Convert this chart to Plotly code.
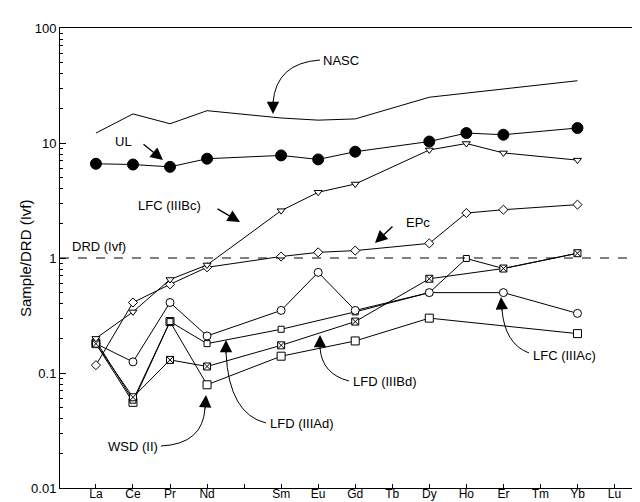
import plotly.graph_objects as go

# ---------------- data ----------------
elements = ["La", "Ce", "Pr", "Nd", "Pm", "Sm", "Eu", "Gd", "Tb", "Dy", "Ho", "Er", "Tm", "Yb", "Lu"]
tick_labels = ["La", "Ce", "Pr", "Nd", "", "Sm", "Eu", "Gd", "Tb", "Dy", "Ho", "Er", "Tm", "Yb", "Lu"]

N = None
nasc      = [12.2, 17.9, 14.7, 19.1, N, 16.5, 15.8, 16.2, N, 25.0, N, N, N, 34.8, N]
ul        = [6.6, 6.5, 6.2, 7.3, N, 7.8, 7.2, 8.4, N, 10.3, 12.2, 11.8, N, 13.5, N]
lfc_iiibc = [0.20, 0.34, 0.65, 0.87, N, 2.58, 3.73, 4.4, N, 8.7, 9.9, 8.2, N, 7.1, N]
epc       = [0.117, 0.41, 0.59, 0.83, N, 1.03, 1.12, 1.16, N, 1.34, 2.46, 2.63, N, 2.91, N]
lfc_iiiac = [0.18, 0.125, 0.41, 0.21, N, 0.35, 0.75, 0.35, N, 0.50, N, 0.50, N, 0.33, N]
lfd_iiiad = [0.19, 0.058, 0.28, 0.18, N, 0.24, N, 0.34, N, 0.50, 0.99, 0.81, N, 1.10, N]
lfd_iiibd = [0.18, 0.0615, 0.13, 0.114, N, 0.174, N, 0.28, N, 0.66, N, 0.81, N, 1.10, N]
wsd_ii    = [0.18, 0.0556, 0.28, 0.079, N, 0.14, N, 0.19, N, 0.30, N, N, N, 0.22, N]
drd_level = 1.0

xs = list(range(len(elements)))

W, H = 640, 502
L, R, T, B = 52, 638, 20, 480  # plot area in pixels


def px(x, y):
    """pixel -> paper coordinates"""
    return (x - L) / (R - L), (B - y) / (B - T)


fig = go.Figure()

line = dict(color="black", width=1)


def add(vals, symbol=None, size=7, filled=False):
    fig.add_trace(go.Scatter(
        x=xs, y=vals, mode="lines+markers" if symbol else "lines",
        connectgaps=True, line=line,
        marker=dict(symbol=symbol, size=size, color="black" if filled else "white",
                    line=dict(color="black", width=1)) if symbol else None,
        showlegend=False, hoverinfo="skip"))


add(nasc)
add(wsd_ii, "square", 8)
add(lfd_iiiad, "square", 6)
add(lfc_iiiac, "circle", 8)
add(lfd_iiibd, "square-x", 7)
add(epc, "diamond", 7)
add(lfc_iiibc, "triangle-down", 7)
add(ul, "circle", 11, filled=True)

# DRD reference line
fig.add_shape(type="line", xref="paper", x0=0, x1=1, yref="y", y0=drd_level, y1=drd_level,
              line=dict(color="black", width=1, dash="dash"))

# curved leader lines
curves = [
    [(312, 52), (268, 55), (265, 95)],
    [(521, 345), (497, 336), (494, 302)],
    [(341, 373), (314, 366), (312, 340)],
    [(258, 415), (221, 406), (218, 345)],
    [(153, 438), (195, 436), (197, 400)],
]
for (a, c, e) in curves:
    (ax_, ay_), (cx, cy), (ex, ey) = px(*a), px(*c), px(*e)
    fig.add_shape(type="path", xref="paper", yref="paper",
                  path=f"M {ax_},{ay_} Q {cx},{cy} {ex},{ey}",
                  line=dict(color="black", width=1))

# arrow heads: (tip, tail)
arrows = [
    ((265, 106), (265, 92)),
    ((155, 152), (134, 135)),
    ((232, 214), (208, 200)),
    ((367, 235), (386, 217)),
    ((493, 289), (494, 304)),
    ((312, 327), (312, 342)),
    ((218, 332), (218, 347)),
    ((198, 387), (197, 402)),
]

font = dict(family="Arial, Liberation Sans, sans-serif", size=13, color="black")
annotations = []
for (tip, tail) in arrows:
    tx, ty = px(*tip)
    annotations.append(dict(xref="paper", yref="paper", x=tx, y=ty, text="",
                            showarrow=True, arrowhead=2, arrowsize=1.9, arrowwidth=1.3,
                            arrowcolor="black", ax=tail[0] - tip[0], ay=tail[1] - tip[1]))

labels = [
    ("NASC", 313, 52, "left"),
    ("UL", 105, 133, "left"),
    ("LFC (IIIBc)", 128, 197, "left"),
    ("DRD (Ivf)", 62, 238, "left"),
    ("EPc", 396, 214, "left"),
    ("LFC (IIIAc)", 523, 347, "left"),
    ("LFD (IIIBd)", 343, 373, "left"),
    ("LFD (IIIAd)", 260, 415, "left"),
    ("WSD (II)", 152, 438, "right"),
]
for (t, x, y, anc) in labels:
    px_, py_ = px(x, y)
    annotations.append(dict(xref="paper", yref="paper", x=px_, y=py_, text=t, showarrow=False,
                            xanchor=anc, yanchor="middle", font=font))

# y-axis title
tx, ty = px(17, 250)
annotations.append(dict(xref="paper", yref="paper", x=tx, y=ty, text="Sample/DRD (Ivf)",
                        textangle=-90, showarrow=False, xanchor="center", yanchor="middle",
                        font=dict(family="Arial, Liberation Sans, sans-serif", size=15, color="black")))

minor_vals = [k * 10 ** e for e in range(-2, 2) for k in range(2, 10)]

fig.update_layout(
    width=W, height=H,
    margin=dict(l=L, r=W - R, t=T, b=H - B),
    paper_bgcolor="white", plot_bgcolor="white",
    annotations=annotations,
    font=font,
    xaxis=dict(range=[-0.97, 14.85], tickmode="array", tickvals=xs, ticktext=tick_labels,
               ticks="inside", ticklen=4, tickcolor="black", showline=True, linecolor="black",
               linewidth=1, mirror=True, showgrid=False, zeroline=False,
               ticklabelstandoff=-5,
               tickfont=dict(family="Arial, Liberation Sans, sans-serif", size=12)),
    yaxis=dict(type="log", range=[-2, 2], tickmode="array",
               tickvals=[0.01, 0.1, 1, 10, 100], ticktext=["0.01", "0.1", "1", "10", "100"],
               ticks="inside", ticklen=6, tickcolor="black", showline=True, linecolor="black",
               linewidth=1, mirror=True, showgrid=False, zeroline=False,
               minor=dict(tickvals=minor_vals, ticks="inside", ticklen=3, tickcolor="black",
                          showgrid=False),
               tickfont=dict(family="Arial, Liberation Sans, sans-serif", size=13)),
)

fig.write_html("out.html")
